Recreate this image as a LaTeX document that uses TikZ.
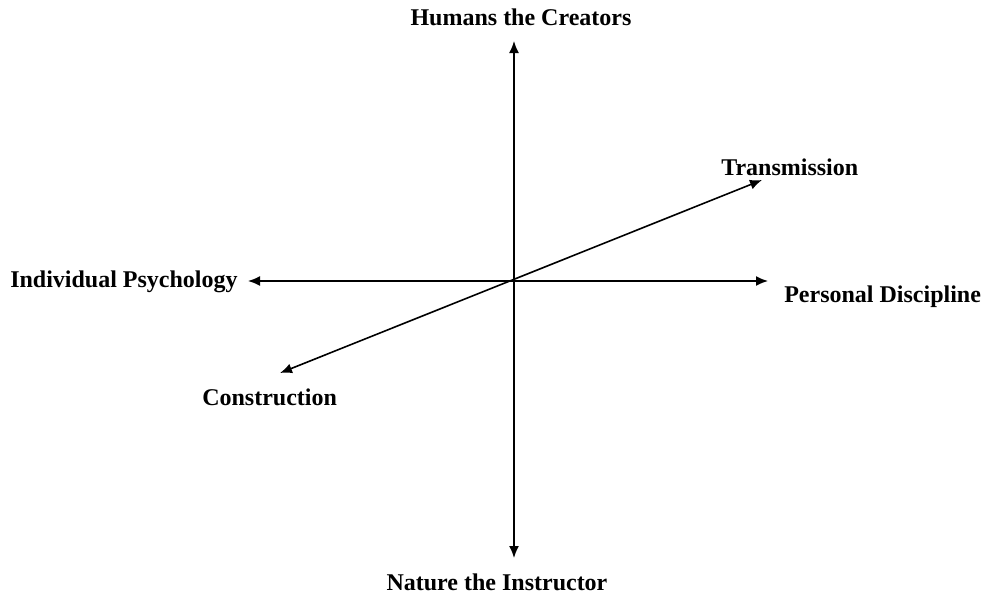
\documentclass[tikz,border=0pt]{standalone}
\usepackage{fontspec}
\setmainfont{Liberation Serif}
\usetikzlibrary{arrows.meta}
\begin{document}
\begin{tikzpicture}[x=0.75pt,y=-0.75pt,
  axis/.style={line width=1.2pt,black,{Latex[length=9pt,width=7.5pt]}-{Latex[length=9pt,width=7.5pt]}},
  pole/.style={inner sep=0pt,font=\fontsize{18}{20}\selectfont\bfseries}]
\useasboundingbox (0,0) rectangle (984,596);
% arrow ends of the three axes
\coordinate (top) at (514,41);
\coordinate (bottom) at (514,558);
\coordinate (left) at (248,281);
\coordinate (right) at (768,281);
\coordinate (trans) at (762,180);
\coordinate (constr) at (280,373);
% axes
\draw[axis] (bottom) -- (top);
\draw[axis] (left) -- (right);
\draw[axis] (constr) -- (trans);
% pole labels
\node[pole,anchor=base] (humans) at (521,25) {Humans the Creators};
\node[pole,anchor=base] (nature) at (497,590) {Nature the Instructor};
\node[pole,anchor=base west] (indiv) at (10,287) {Individual Psychology};
\node[pole,anchor=base west] (personal) at (784,302) {Personal Discipline};
\node[pole,anchor=base west] (transmission) at (721,175) {Transmission};
\node[pole,anchor=base west] (construction) at (202,405) {Construction};
\end{tikzpicture}
\end{document}
